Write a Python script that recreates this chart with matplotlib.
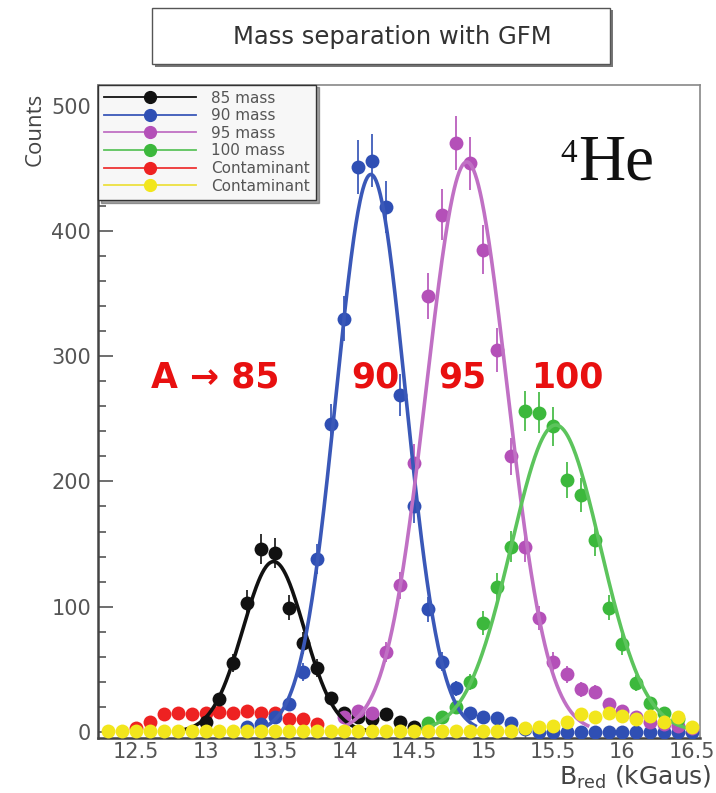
import numpy as np
import matplotlib
matplotlib.use("Agg")
import matplotlib.pyplot as plt
from matplotlib.lines import Line2D
from matplotlib.patches import Rectangle
from matplotlib.ticker import MultipleLocator

# ---- measured counts per B_red bin ----
x_85 = [13.0, 13.1, 13.2, 13.3, 13.4, 13.5, 13.6, 13.7, 13.8, 13.9, 14.0, 14.1, 14.2, 14.3, 14.4, 14.5]
y_85 = [8, 26, 55, 103, 146, 143, 99, 71, 51, 27, 15, 12, 10, 14, 8, 4]

x_90 = [13.3, 13.4, 13.5, 13.6, 13.7, 13.8, 13.9, 14.0, 14.1, 14.2, 14.3, 14.4, 14.5, 14.6,
        14.7, 14.8, 14.9, 15.0, 15.1, 15.2, 15.3, 15.4, 15.5, 15.6, 15.7, 15.8, 15.9, 16.0,
        16.1, 16.2, 16.3, 16.4, 16.5]
y_90 = [4, 6, 12, 22, 48, 138, 246, 330, 451, 456, 419, 269, 180, 98,
        56, 35, 15, 12, 11, 7, 2, 0, 0, 0, 0, 0, 0, 0,
        0, 0, 0, 0, 0]

x_95 = [14.0, 14.1, 14.2, 14.3, 14.4, 14.5, 14.6, 14.7, 14.8, 14.9, 15.0, 15.1, 15.2, 15.3,
        15.4, 15.5, 15.6, 15.7, 15.8, 15.9, 16.0, 16.1, 16.2, 16.3, 16.4, 16.5]
y_95 = [12, 17, 15, 64, 117, 215, 348, 413, 470, 454, 385, 305, 220, 148,
        91, 56, 46, 34, 32, 22, 17, 12, 8, 6, 5, 3]

x_100 = [14.6, 14.7, 14.8, 14.9, 15.0, 15.1, 15.2, 15.3, 15.4, 15.5, 15.6, 15.7, 15.8, 15.9,
         16.0, 16.1, 16.2, 16.3, 16.4]
y_100 = [7, 12, 20, 40, 87, 116, 148, 256, 255, 244, 201, 189, 153, 99,
         70, 39, 23, 15, 10]

x_red = [12.5, 12.6, 12.7, 12.8, 12.9, 13.0, 13.1, 13.2, 13.3, 13.4, 13.5, 13.6, 13.7, 13.8]
y_red = [3, 8, 14, 15, 14, 15, 16, 15, 17, 15, 15, 10, 10, 6]

x_yel = [12.3, 12.4, 12.5, 12.6, 12.7, 12.8, 12.9, 13.0, 13.1, 13.2, 13.3, 13.4, 13.5, 13.6,
         13.7, 13.8, 13.9, 14.0, 14.1, 14.2, 14.3, 14.4, 14.5, 14.6, 14.7, 14.8, 14.9, 15.0,
         15.1, 15.2, 15.3, 15.4, 15.5, 15.6, 15.7, 15.8, 15.9, 16.0, 16.1, 16.2, 16.3, 16.4, 16.5]
y_yel = [1, 1, 1, 1, 1, 1, 1, 1, 1, 1, 1, 1, 1, 1,
         1, 1, 1, 1, 1, 1, 1, 1, 1, 1, 1, 1, 1, 1,
         1, 1, 3, 4, 5, 8, 14, 12, 15, 13, 10, 13, 8, 12, 4]

# Gaussian fit parameters: 85, 90, 95, 100 mass
fit_amp = [136, 445, 455, 245]
fit_mean = [13.49, 14.19, 14.88, 15.52]
fit_sigma = [0.22, 0.25, 0.29, 0.32]

labels = ["85 mass", "90 mass", "95 mass", "100 mass", "Contaminant", "Contaminant"]
colors = ["#111111", "#2f4fb4", "#b450b8", "#3cb83c", "#ee2222", "#f2e61c"]
line_colors = ["#111111", "#3a58b8", "#c070c4", "#5cc45c", "#ee3333", "#ece040"]

fig = plt.figure(figsize=(7.16, 7.93), dpi=100)
ax = fig.add_axes([0.137, 0.0694, 0.841, 0.824])

gray = "#555555"


def draw_points(x, y, c, z):
    x = np.asarray(x, float)
    y = np.asarray(y, float)
    err = np.sqrt(np.clip(y, 0, None))
    ax.errorbar(x, y, yerr=err, fmt="o", color=c, ms=10, mew=0, elinewidth=1.2,
                capsize=3, capthick=1.2, zorder=z)


draw_points(x_red, y_red, colors[4], 3)
draw_points(x_85, y_85, colors[0], 4)
draw_points(x_90, y_90, colors[1], 4)
draw_points(x_95, y_95, colors[2], 4)
draw_points(x_100, y_100, colors[3], 4)
draw_points(x_yel, y_yel, colors[5], 6)

for a, m, s, c in zip(fit_amp, fit_mean, fit_sigma, line_colors[:4]):
    xx = np.linspace(m - 3.0 * s, m + 3.0 * s, 300)
    ax.plot(xx, a * np.exp(-0.5 * ((xx - m) / s) ** 2), color=c, lw=2.6, zorder=5)

ax.set_xlim(12.227, 16.56)
ax.set_ylim(-4.8, 516.8)
ax.xaxis.set_major_locator(MultipleLocator(0.5))
ax.xaxis.set_minor_locator(MultipleLocator(0.1))
ax.yaxis.set_major_locator(MultipleLocator(100))
ax.yaxis.set_minor_locator(MultipleLocator(20))
ax.xaxis.set_major_formatter(plt.FuncFormatter(lambda v, p: f"{v:g}"))
ax.tick_params(axis="x", which="major", direction="in", length=7, width=1, color="#777777",
               labelsize=15, labelcolor=gray, pad=3)
ax.tick_params(axis="x", which="minor", direction="in", length=4, width=1, color="#777777")
ax.tick_params(axis="y", which="major", direction="in", length=11, width=1.2, color="#555555",
               labelsize=15, labelcolor=gray, pad=5)
ax.tick_params(axis="y", which="minor", direction="in", length=6, width=1.2, color="#555555")
for lab in ax.get_xticklabels() + ax.get_yticklabels():
    lab.set_family("DejaVu Sans")
for side in ["left", "bottom"]:
    ax.spines[side].set_color("#444444")
    ax.spines[side].set_linewidth(1.8)
for side in ["top", "right"]:
    ax.spines[side].set_color("#888888")
    ax.spines[side].set_linewidth(1.2)

# legend
handles = [Line2D([0], [0], color=lc, lw=1.3, marker="o", ms=8.5, mfc=c, mec=c)
           for c, lc in zip(colors, line_colors)]
leg = ax.legend(handles, labels, loc="upper left", bbox_to_anchor=(0.0, 1.0), borderaxespad=0,
                handlelength=6.0, handletextpad=1.0, labelspacing=0.17,
                borderpad=0.4, frameon=True, fancybox=False, shadow=True,
                prop={"family": "DejaVu Sans", "size": 11})
leg.get_frame().set_edgecolor("#333333")
leg.get_frame().set_facecolor("#f7f7f7")
leg.get_frame().set_linewidth(1.0)
for t in leg.get_texts():
    t.set_color("#555555")
leg.set_zorder(10)

# mass annotations
ann_style = dict(color="#e81010", fontsize=25, fontweight="bold", family="DejaVu Sans",
                 ha="center", va="center", zorder=8)
ax.text(13.07, 283, "A → 85", **ann_style)
ax.text(14.22, 283, "90", **ann_style)
ax.text(14.85, 283, "95", **ann_style)
ax.text(15.6, 283, "100", **ann_style)

# isotope label
fig.text(578 / 716, 1 - 180 / 793, "He", family="Liberation Serif", fontsize=47,
         ha="left", va="baseline", color="#111111")
fig.text(560 / 716, 1 - 162 / 793, "4", family="Liberation Serif", fontsize=24,
         ha="left", va="baseline", color="#111111")

# axis titles
fig.text(35 / 716, 1 - 129 / 793, "Counts", rotation=90, family="Open Sans", fontsize=16,
         color="#444444", ha="center", va="center")
fig.text(712 / 716, 1 - 777 / 793, r"B$_{\mathrm{red}}$ (kGaus)", family="DejaVu Sans",
         fontsize=18, color="#444444", ha="right", va="center")

# title box
fig.patches.append(Rectangle((155 / 716, 1 - 67 / 793), 458 / 716, 57 / 793,
                             transform=fig.transFigure, facecolor="#777777",
                             edgecolor="none", zorder=1))
fig.patches.append(Rectangle((152 / 716, 1 - 64 / 793), 458 / 716, 56 / 793,
                             transform=fig.transFigure, facecolor="white",
                             edgecolor="#555555", lw=1.0, zorder=2))
fig.text(392 / 716, 1 - 37 / 793, "Mass separation with GFM", family="DejaVu Sans",
         fontsize=17.5, color="#333333", ha="center", va="center", zorder=3)

fig.savefig("out.png", dpi=100)
